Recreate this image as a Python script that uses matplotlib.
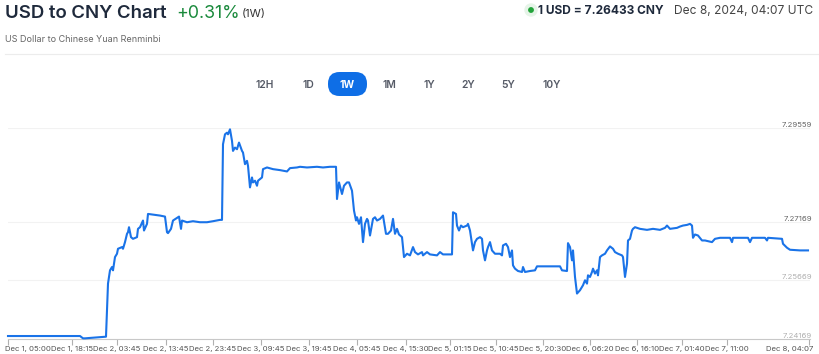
import matplotlib
matplotlib.use("Agg")
import matplotlib.pyplot as plt
import matplotlib.transforms as mtransforms
from matplotlib.patches import FancyBboxPatch, Circle

plt.rcParams['font.family'] = ['Inter', 'DejaVu Sans']

# ---- data ----
sample_idx = [0, 72, 75, 77, 98, 100, 102, 104, 105, 107, 109, 110, 114, 115, 117, 119, 120, 121, 123, 125,
              129, 130, 132, 135, 136, 139, 140, 145, 152, 157, 159, 160, 163, 165, 169, 171, 173, 174, 179, 185,
              192, 199, 205, 212, 214, 215, 217, 219, 220, 222, 224, 225, 227, 229, 231, 234, 235, 237, 239, 240,
              242, 244, 245, 247, 249, 250, 254, 255, 259, 265, 272, 279, 282, 289, 292, 299, 309, 315, 322, 328,
              329, 331, 334, 336, 339, 341, 344, 346, 348, 349, 351, 353, 355, 357, 359, 360, 362, 365, 367, 369,
              372, 375, 378, 380, 383, 385, 387, 389, 391, 394, 396, 399, 402, 405, 407, 410, 414, 415, 419, 422,
              429, 432, 435, 444, 445, 448, 449, 451, 453, 455, 459, 460, 462, 465, 467, 469, 472, 474, 475, 477,
              479, 480, 482, 484, 487, 492, 494, 495, 498, 500, 502, 504, 505, 507, 510, 514, 515, 517, 522, 527,
              529, 552, 554, 559, 560, 562, 564, 565, 567, 569, 572, 575, 577, 579, 580, 582, 584, 585, 587, 589,
              590, 592, 594, 597, 599, 602, 605, 607, 610, 614, 615, 617, 619, 620, 622, 624, 625, 627, 632, 639,
              645, 652, 657, 659, 662, 669, 672, 675, 679, 682, 684, 685, 687, 690, 694, 697, 700, 704, 707, 712,
              722, 724, 725, 740, 742, 744, 757, 759, 760, 774, 775, 779, 782, 792, 800]
rate = [7.24245, 7.24245, 7.24186, 7.24186, 7.24228, 7.25584, 7.25923, 7.26008, 7.25923, 7.26262, 7.26347, 7.26474, 7.26517, 7.26474, 7.26644, 7.26856, 7.26898, 7.27025, 7.26771, 7.26728,
        7.26771, 7.26983, 7.27025, 7.27195, 7.26940, 7.27110, 7.27364, 7.27347, 7.27322, 7.27296, 7.26898, 7.26873, 7.26983, 7.27195, 7.27262, 7.27296, 7.26983, 7.27195, 7.27152, 7.27178,
        7.27152, 7.27152, 7.27178, 7.27212, 7.27212, 7.29144, 7.29398, 7.29440, 7.29398, 7.29525, 7.29229, 7.28974, 7.29059, 7.29017, 7.29186, 7.28974, 7.28932, 7.28635, 7.28720, 7.28593,
        7.28042, 7.28296, 7.28169, 7.28212, 7.28084, 7.28212, 7.28296, 7.28508, 7.28551, 7.28508, 7.28483, 7.28449, 7.28534, 7.28551, 7.28568, 7.28551, 7.28568, 7.28551, 7.28568, 7.28568,
        7.27745, 7.28169, 7.27873, 7.28084, 7.28169, 7.28169, 7.27957, 7.27449, 7.27195, 7.27279, 7.27110, 7.27279, 7.26644, 7.27110, 7.27237, 7.27195, 7.26813, 7.27237, 7.27279, 7.27195,
        7.27237, 7.27322, 7.26856, 7.26856, 7.26940, 7.27237, 7.26856, 7.26983, 7.26839, 7.26771, 7.26262, 7.26347, 7.26305, 7.26517, 7.26389, 7.26330, 7.26389, 7.26305, 7.26389, 7.26330,
        7.26305, 7.26389, 7.26330, 7.26330, 7.27406, 7.27364, 7.27067, 7.26940, 7.27067, 7.27025, 7.27067, 7.27110, 7.26940, 7.26432, 7.26644, 7.26728, 7.26771, 7.26728, 7.26432, 7.26178,
        7.26432, 7.26517, 7.26644, 7.26432, 7.26347, 7.26347, 7.26305, 7.26559, 7.26601, 7.26517, 7.26262, 7.26432, 7.26050, 7.25966, 7.25906, 7.25881, 7.26008, 7.25881, 7.25906, 7.25923,
        7.26025, 7.26025, 7.25923, 7.25906, 7.26618, 7.26517, 7.26178, 7.26432, 7.25754, 7.25330, 7.25415, 7.25542, 7.25669, 7.25584, 7.25796, 7.25754, 7.25881, 7.25966, 7.25839, 7.25923,
        7.25796, 7.26262, 7.26305, 7.26347, 7.26432, 7.26534, 7.26474, 7.26389, 7.26347, 7.26305, 7.26262, 7.25754, 7.26093, 7.26686, 7.26728, 7.26940, 7.26983, 7.27025, 7.26983, 7.26957,
        7.26983, 7.26957, 7.27008, 7.27067, 7.26983, 7.27008, 7.27042, 7.27067, 7.27084, 7.27110, 7.27067, 7.26754, 7.26839, 7.26813, 7.26686, 7.26686, 7.26669, 7.26644, 7.26728, 7.26754,
        7.26754, 7.26644, 7.26754, 7.26754, 7.26644, 7.26754, 7.26754, 7.26686, 7.26754, 7.26728, 7.26601, 7.26500, 7.26449, 7.26432, 7.26432]

tick_idx = [0, 64, 109, 158, 205, 253, 301, 349, 398, 442, 488, 535, 582, 629, 674, 719, 801]
tick_labels = ["Dec 1, 05:00", "Dec 1, 18:15", "Dec 2, 03:45", "Dec 2, 13:45", "Dec 2, 23:45",
               "Dec 3, 09:45", "Dec 3, 19:45", "Dec 4, 05:45", "Dec 4, 15:30", "Dec 5, 01:15",
               "Dec 5, 10:45", "Dec 5, 20:30", "Dec 6, 06:20", "Dec 6, 16:10", "Dec 7, 01:40",
               "Dec 7, 11:00", "Dec 8, 04:07"]
y_levels = [7.29559, 7.27169, 7.25669, 7.24169]
y_level_labels = ["7.29559", "7.27169", "7.25669", "7.24169"]
periods = ["12H", "1D", "1W", "1M", "1Y", "2Y", "5Y", "10Y"]
active_period = "1W"

W, H = 820, 354
fig = plt.figure(figsize=(W / 100, H / 100), dpi=100)

# ---- chart axes ----
x0, x1, ytop, ybot = 8, 810, 128, 339
ax = fig.add_axes([x0 / W, 1 - ybot / H, (x1 - x0) / W, (ybot - ytop) / H])
ax.set_xlim(0, 802)
ax.set_ylim(y_levels[-1], y_levels[0])
for s in ['top', 'right', 'left']:
    ax.spines[s].set_visible(False)
ax.spines['bottom'].set_color('#c8c8c8')
ax.spines['bottom'].set_linewidth(0.8)
ax.set_yticks([])
for v in y_levels[:-1]:
    ax.axhline(v, color='#f2f2f2', lw=0.8, zorder=0)
ax.plot(sample_idx, rate, color='#1a73e8', lw=1.5, solid_joinstyle='round', zorder=3, clip_on=False)

ax.set_xticks(tick_idx)
ax.set_xticklabels(tick_labels)
ax.tick_params(axis='x', length=4, width=0.8, color='#b0b0b0', pad=1.0, labelsize=5.6, labelcolor='#555555')
lbls = ax.get_xticklabels()
lbls[0].set_horizontalalignment('left')
lbls[-1].set_horizontalalignment('right')
off_l = mtransforms.offset_copy(lbls[0].get_transform(), fig=fig, x=-3, y=0, units='dots')
lbls[0].set_transform(off_l)
off_r = mtransforms.offset_copy(lbls[-1].get_transform(), fig=fig, x=4, y=0, units='dots')
lbls[-1].set_transform(off_r)

trans = mtransforms.blended_transform_factory(ax.transAxes, ax.transData)
ycolors = ['#666666', '#666666', '#b0b0b0', '#b0b0b0']
for v, lab, c in zip(y_levels, y_level_labels, ycolors):
    ax.text(1.003, v, lab, transform=trans, ha='right', va='bottom', fontsize=5.6, color=c)

# ---- overlay for header ----
ov = fig.add_axes([0, 0, 1, 1], zorder=-1)
ov.set_xlim(0, W)
ov.set_ylim(H, 0)
ov.axis('off')

ov.text(5, 17.5, "USD to CNY Chart", fontsize=13.4, fontweight='semibold', color='#1f2a3c', va='baseline')
ov.text(176, 17.5, "+0.31%", fontsize=12.8, color='#1a8a3c', va='baseline')
ov.text(242, 17.5, "(1W)", fontsize=8.2, color='#333333', va='baseline')
ov.text(5, 41.5, "US Dollar to Chinese Yuan Renminbi", fontsize=6.5, color='#666666', va='baseline')
ov.plot([5, 820], [53.5, 53.5], color='#ececec', lw=0.8)

ov.add_patch(Circle((531, 10), 6, color='#e6f4e8', zorder=1))
ov.add_patch(Circle((531, 10), 2.2, color='#22a33a', zorder=2))
ov.text(538, 14, "1 USD = 7.26433 CNY", fontsize=8.6, fontweight='bold', color='#1f2a3c', va='baseline')
ov.text(813, 14, "Dec 8, 2024, 04:07 UTC", fontsize=8.6, color='#444444', va='baseline', ha='right')

centers = [265, 308, 347, 389, 429, 468, 508, 552]
for lab, cx in zip(periods, centers):
    if lab == active_period:
        ov.add_patch(FancyBboxPatch((328, 72), 39, 24,
                                    boxstyle="round,pad=0,rounding_size=11.5",
                                    color='#0e6ee6', lw=0))
        ov.text(cx, 84.5, lab, fontsize=7.4, fontweight='bold', color='white', ha='center', va='center')
    else:
        ov.text(cx, 84.5, lab, fontsize=7.4, fontweight='semibold', color='#555a66', ha='center', va='center')

fig.savefig("out.png", dpi=100)
